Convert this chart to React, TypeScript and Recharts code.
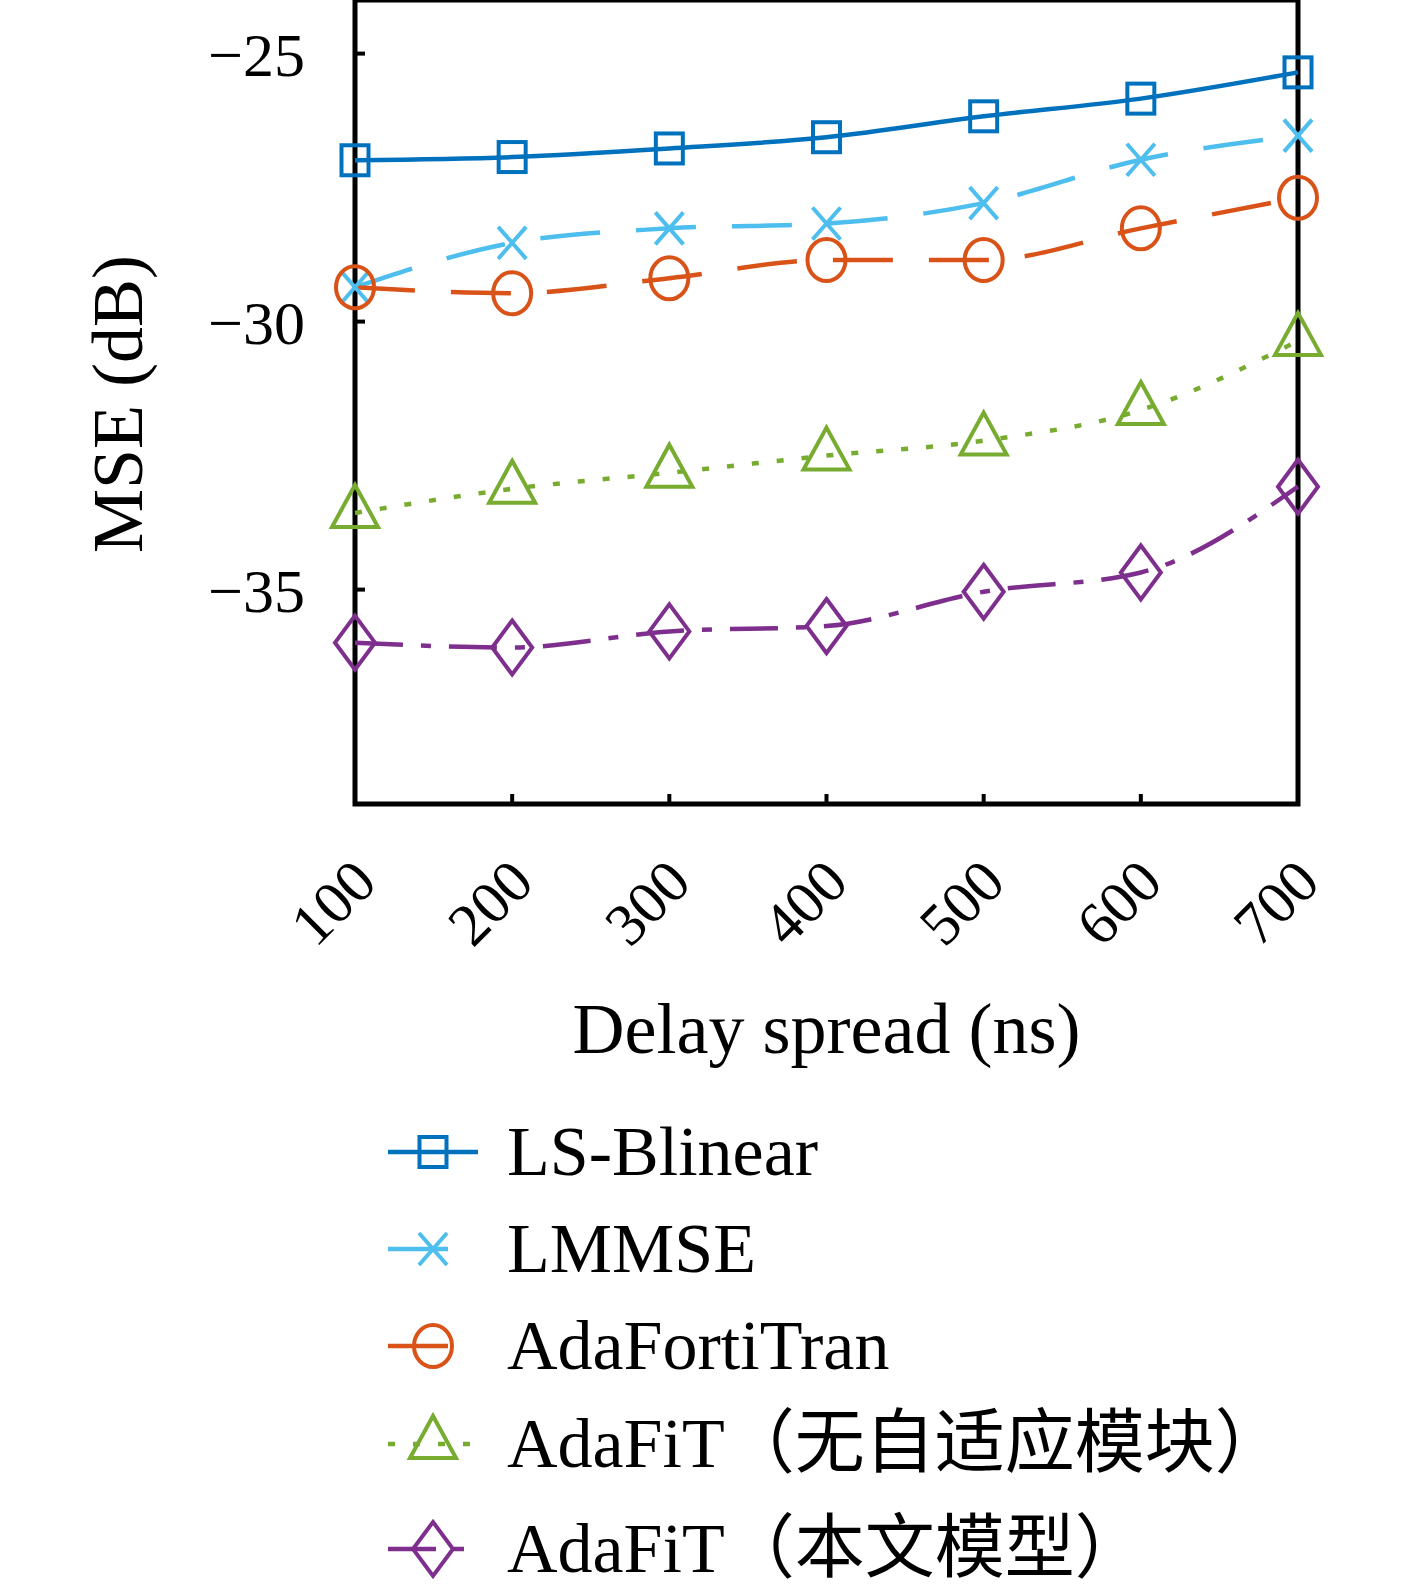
import {
  ComposedChart,
  Line,
  XAxis,
  YAxis,
  Legend,
  ReferenceArea,
} from 'recharts';

// delay spread (ns)
const delaySpread = [100, 200, 300, 400, 500, 600, 700];

// MSE (dB) per method
const lsBlinear = [-26.99, -26.93, -26.77, -26.56, -26.17, -25.84, -25.35];
const lmmse = [-29.36, -28.53, -28.26, -28.17, -27.79, -26.98, -26.53];
const adaFortiTran = [-29.36, -29.47, -29.19, -28.85, -28.85, -28.26, -27.69];
const adaFitNoAdapt = [-33.57, -33.12, -32.82, -32.5, -32.22, -31.65, -30.36];
const adaFit = [-35.99, -36.08, -35.78, -35.68, -35.04, -34.68, -33.08];

const yTicks = [-25, -30, -35];

const seriesNames = [
  'LS-Blinear',
  'LMMSE',
  'AdaFortiTran',
  'AdaFiT（无自适应模块）',
  'AdaFiT（本文模型）',
];

const FONT = '"Liberation Serif", "Noto Sans CJK SC", serif';

type Shape = 'square' | 'cross' | 'circle' | 'triangle' | 'diamond';

const series: { key: string; color: string; dash?: string; shape: Shape }[] = [
  { key: 'ls', color: '#0072BD', shape: 'square' },
  { key: 'lmmse', color: '#4DBEEE', dash: '60 36', shape: 'cross' },
  { key: 'aft', color: '#D95319', dash: '60 36', shape: 'circle' },
  { key: 'noadapt', color: '#77AC30', dash: '7 18', shape: 'triangle' },
  { key: 'adafit', color: '#7E2F8E', dash: '48 18 10 18', shape: 'diamond' },
];

const data = delaySpread.map((d, i) => ({
  delay: d,
  ls: lsBlinear[i],
  lmmse: lmmse[i],
  aft: adaFortiTran[i],
  noadapt: adaFitNoAdapt[i],
  adafit: adaFit[i],
}));

function Marker({ shape, cx, cy, color }: { shape: Shape; cx: number; cy: number; color: string }) {
  const common = { fill: 'none', stroke: color, strokeWidth: 4 };
  switch (shape) {
    case 'square':
      return <rect x={cx - 13.5} y={cy - 15} width={27} height={30} {...common} />;
    case 'cross':
      return (
        <path
          d={`M${cx - 14},${cy - 16}L${cx + 14},${cy + 16}M${cx - 14},${cy + 16}L${cx + 14},${cy - 16}`}
          {...common}
        />
      );
    case 'circle':
      return <ellipse cx={cx} cy={cy} rx={19} ry={21} {...common} />;
    case 'triangle':
      return (
        <path d={`M${cx},${cy - 28}L${cx + 23},${cy + 14}L${cx - 23},${cy + 14}Z`} {...common} />
      );
    case 'diamond':
      return <path d={`M${cx},${cy - 27}L${cx + 20},${cy}L${cx},${cy + 27}L${cx - 20},${cy}Z`} {...common} />;
  }
}

const legendRows = [1152, 1249, 1346, 1444, 1549];

function LegendBlock() {
  return (
    <svg width={1417} height={1592} style={{ display: 'block' }}>
      {series.map((s, i) => {
        const y = legendRows[i];
        return (
          <g key={s.key}>
            <line
              x1={388}
              x2={478}
              y1={y}
              y2={y}
              stroke={s.color}
              strokeWidth={4.5}
              strokeDasharray={s.dash}
            />
            <Marker shape={s.shape} cx={433} cy={y} color={s.color} />
            <text x={507} y={y + 23} fontFamily={FONT} fontSize={70} fill="#000">
              {seriesNames[i]}
            </text>
          </g>
        );
      })}
    </svg>
  );
}

function XTick(props: any) {
  const { x, y, payload } = props;
  return (
    <text
      x={x + 10}
      y={y + 75}
      transform={`rotate(-45, ${x + 10}, ${y + 75})`}
      textAnchor="end"
      dominantBaseline="central"
      fontFamily={FONT}
      fontSize={60}
      fill="#000"
    >
      {payload.value}
    </text>
  );
}

export default function App() {
  return (
    <div style={{ position: 'absolute', left: 0, top: 0, width: 1417, height: 1592, background: '#fff' }}>
      <ComposedChart
        width={1417}
        height={1592}
        data={data}
        margin={{ top: 0, right: 119, bottom: 538, left: 0 }}
      >
        <XAxis
          dataKey="delay"
          type="number"
          domain={[100, 700]}
          ticks={delaySpread}
          height={250}
          axisLine={false}
          tickSize={-10}
          tickLine={{ stroke: '#000', strokeWidth: 4 }}
          tick={<XTick />}
          label={{
            content: (p: any) => (
              <text
                x={p.viewBox.x + p.viewBox.width / 2}
                y={p.viewBox.y + 249}
                textAnchor="middle"
                fontFamily={FONT}
                fontSize={72}
                fill="#000"
              >
                Delay spread (ns)
              </text>
            ),
          }}
        />
        <YAxis
          type="number"
          domain={[-39, -24]}
          ticks={yTicks}
          width={355}
          axisLine={false}
          tickSize={-10}
          tickMargin={60}
          tickLine={{ stroke: '#000', strokeWidth: 4 }}
          tick={{ fontFamily: FONT, fontSize: 62, fill: '#000' }}
          tickFormatter={(v: number) => `\u2212${Math.abs(v)}`}
          label={{
            content: (p: any) => {
              const cx = 118;
              const cy = p.viewBox.y + p.viewBox.height / 2 + 2;
              return (
                <text
                  x={cx}
                  y={cy}
                  transform={`rotate(-90, ${cx}, ${cy})`}
                  textAnchor="middle"
                  dominantBaseline="central"
                  fontFamily={FONT}
                  fontSize={72}
                  fill="#000"
                >
                  MSE (dB)
                </text>
              );
            },
          }}
        />
        <ReferenceArea
          x1={100}
          x2={700}
          y1={-39}
          y2={-24}
          fill="none"
          stroke="#000"
          strokeWidth={5}
          ifOverflow="visible"
        />
        {series.map((s) => (
          <Line
            key={s.key}
            type="monotone"
            dataKey={s.key}
            stroke={s.color}
            strokeWidth={4.5}
            strokeDasharray={s.dash}
            isAnimationActive={false}
            activeDot={false}
            dot={(p: any) => (
              <Marker key={`${s.key}-${p.index}`} shape={s.shape} cx={p.cx} cy={p.cy} color={s.color} />
            )}
          />
        ))}
        <Legend
          layout="vertical"
          align="center"
          verticalAlign="middle"
          wrapperStyle={{ left: 0, top: 0, width: 1417, height: 1592, pointerEvents: 'none' }}
          content={() => <LegendBlock />}
        />
      </ComposedChart>
    </div>
  );
}
